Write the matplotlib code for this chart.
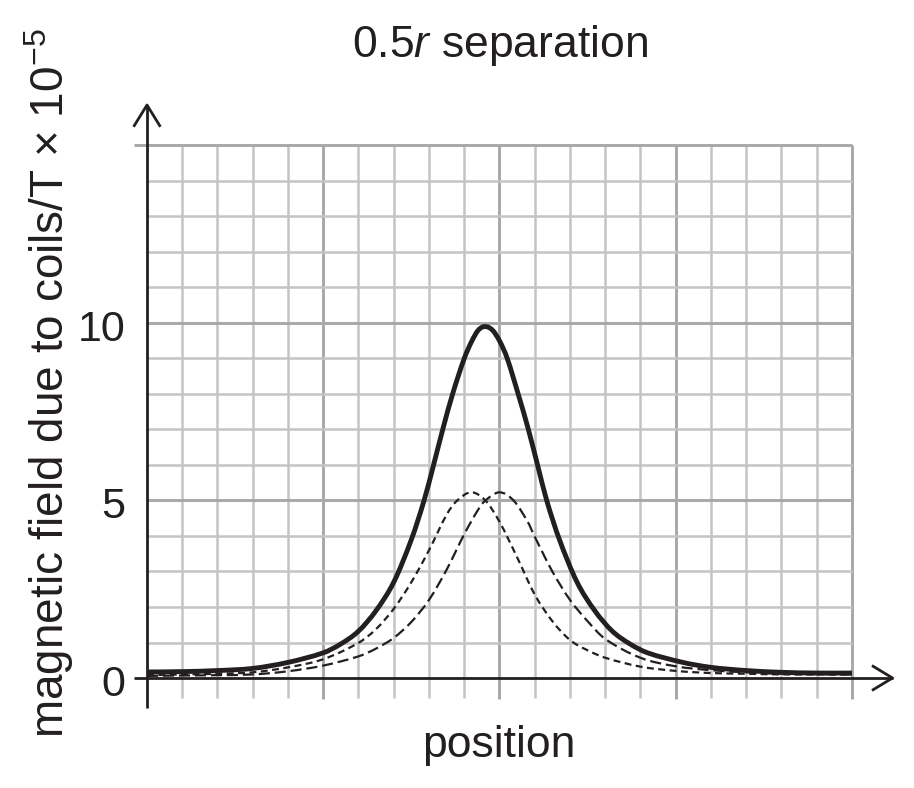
import matplotlib
matplotlib.use("Agg")
import matplotlib.pyplot as plt
from matplotlib.path import Path
from matplotlib.patches import PathPatch

plt.rcParams['font.family'] = ['Liberation Sans', 'DejaVu Sans']
plt.rcParams['mathtext.fontset'] = 'custom'
plt.rcParams['mathtext.rm'] = 'Liberation Sans'
plt.rcParams['mathtext.it'] = 'Liberation Sans:italic'
plt.rcParams['lines.scale_dashes'] = False

# ---- data ----
title = '0.5$\\mathit{r}$ separation'
xlabel = 'position'
ylabel = 'magnetic field due to coils/T \u00d7 10$^{-5}$'
ytick_values = [0, 5, 10]
ytick_labels = ['0', '5', '10']

# total field (solid)
x_total = [0, 1, 2, 3, 4, 5, 5.5, 6, 6.5, 7, 7.5, 7.86, 8.13, 8.39, 8.67, 9.0, 9.21, 9.4,
           9.59, 9.8, 10.01, 10.22, 10.53, 10.82, 11.08, 11.34, 11.7, 12.2, 12.7, 13.2,
           13.7, 14.2, 15.2, 16, 17, 18, 19, 20]
b_total = [0.17, 0.18, 0.21, 0.27, 0.44, 0.71, 0.96, 1.32, 1.9, 2.7, 3.9, 5.0, 6.0, 7.0,
           8.0, 9.0, 9.48, 9.8, 9.9, 9.8, 9.48, 9.0, 8.0, 7.0, 6.0, 5.0, 3.9, 2.7, 1.9,
           1.32, 0.96, 0.71, 0.44, 0.3, 0.21, 0.16, 0.14, 0.14]

# coil 1 (short dashes, peak on the left)
x_coil1 = [0, 1, 2, 3, 4, 5, 6, 6.5, 7, 7.5, 8, 8.5, 8.8, 9.2, 9.6, 10, 10.5, 11, 11.5,
           12, 12.5, 13, 14, 15, 16, 17, 18, 19, 20]
b_coil1 = [0.08, 0.1, 0.12, 0.16, 0.3, 0.53, 0.99, 1.38, 1.95, 2.7, 3.6, 4.6, 5.0, 5.23,
           5.0, 4.4, 3.4, 2.35, 1.6, 1.07, 0.78, 0.57, 0.32, 0.2, 0.14, 0.12, 0.1, 0.1, 0.1]

# coil 2 (long dashes, peak on the right)
x_coil2 = [0, 1, 2, 3, 4, 5, 6, 6.5, 7, 7.5, 8, 8.5, 9, 9.4, 9.6, 10, 10.4, 10.8, 11,
           11.5, 12, 12.5, 13, 14, 15, 16, 17, 18, 19, 20]
b_coil2 = [0.06, 0.07, 0.08, 0.1, 0.19, 0.35, 0.61, 0.83, 1.13, 1.58, 2.2, 3.05, 4.05,
           4.75, 5.0, 5.23, 5.0, 4.4, 3.98, 3.0, 2.2, 1.6, 1.1, 0.57, 0.33, 0.22, 0.16,
           0.12, 0.11, 0.1]


def smooth_path(xs, ys):
    """Cubic Bezier path through the read points (Hermite tangents)."""
    n = len(xs)
    m = []
    for i in range(n):
        if i == 0:
            m.append((ys[1] - ys[0]) / (xs[1] - xs[0]))
        elif i == n - 1:
            m.append((ys[-1] - ys[-2]) / (xs[-1] - xs[-2]))
        else:
            m.append((ys[i + 1] - ys[i - 1]) / (xs[i + 1] - xs[i - 1]))
    verts = [(xs[0], ys[0])]
    codes = [Path.MOVETO]
    for i in range(n - 1):
        h = xs[i + 1] - xs[i]
        verts += [(xs[i] + h / 3, ys[i] + m[i] * h / 3),
                  (xs[i + 1] - h / 3, ys[i + 1] - m[i + 1] * h / 3),
                  (xs[i + 1], ys[i + 1])]
        codes += [Path.CURVE4] * 3
    return Path(verts, codes)


# ---- figure ----
W, H = 914, 788
fig = plt.figure(figsize=(W / 100, H / 100), dpi=100)
ax = fig.add_axes([100 / W, 68 / H, 800 / W, 630 / H])
ax.set_xlim(-1.333, 21.362)
ax.set_ylim(-1.183, 16.563)
ax.axis('off')

ink = '#231f20'
minor_c = '#c4c4c4'
major_c = '#a8a8a8'

xmax, ymax = 20, 15
# grid
for i in range(1, xmax + 1):
    major = (i % 5 == 0)
    ax.plot([i, i], [-0.6 if major else -0.55, ymax], color=major_c if major else minor_c,
            lw=2.1 if major else 1.8, zorder=1, solid_capstyle='butt')
for j in range(1, ymax + 1):
    major = (j % 5 == 0)
    x0 = -0.37 if j == ymax else 0
    ax.plot([x0, xmax], [j, j], color=major_c if major else minor_c,
            lw=2.1 if major else 1.8, zorder=1 if not major else 1.5, solid_capstyle='butt')

# curves
ax.add_patch(PathPatch(smooth_path(x_coil1, b_coil1), fill=False, edgecolor=ink, lw=1.6,
                       linestyle=(0, (5, 3.2)), zorder=3))
ax.add_patch(PathPatch(smooth_path(x_coil2, b_coil2), fill=False, edgecolor=ink, lw=1.6,
                       linestyle=(0, (8, 3.5)), zorder=3))
ax.add_patch(PathPatch(smooth_path(x_total, b_total), fill=False, edgecolor=ink, lw=3.5,
                       capstyle='butt', zorder=4))

# axes with arrows
ax.plot([0, 0], [-0.85, 16.14], color=ink, lw=2.0, zorder=5, solid_capstyle='butt')
ax.plot([-0.36, 0, 0.36], [15.56, 16.14, 15.56], color=ink, lw=2.0, zorder=5)
ax.plot([-0.37, 21.15], [0, 0], color=ink, lw=2.0, zorder=5, solid_capstyle='butt')
ax.plot([20.6, 21.15, 20.6], [0.33, 0, -0.33], color=ink, lw=2.0, zorder=5)

# tick labels
for v, lab in zip(ytick_values, ytick_labels):
    ax.text(-0.62, v - 0.5, lab, ha='right', va='baseline', fontsize=31, color=ink)

# titles
fig.text(500 / W, 1 - 57 / H, title, ha='center', va='baseline', fontsize=32, color=ink)
fig.text(499 / W, 1 - 757 / H, xlabel, ha='center', va='baseline', fontsize=32, color=ink)
fig.text(49 / W, 1 - 383 / H, ylabel, ha='center', va='center', rotation=90,
         fontsize=33, color=ink)

fig.savefig('out.png', dpi=100)
